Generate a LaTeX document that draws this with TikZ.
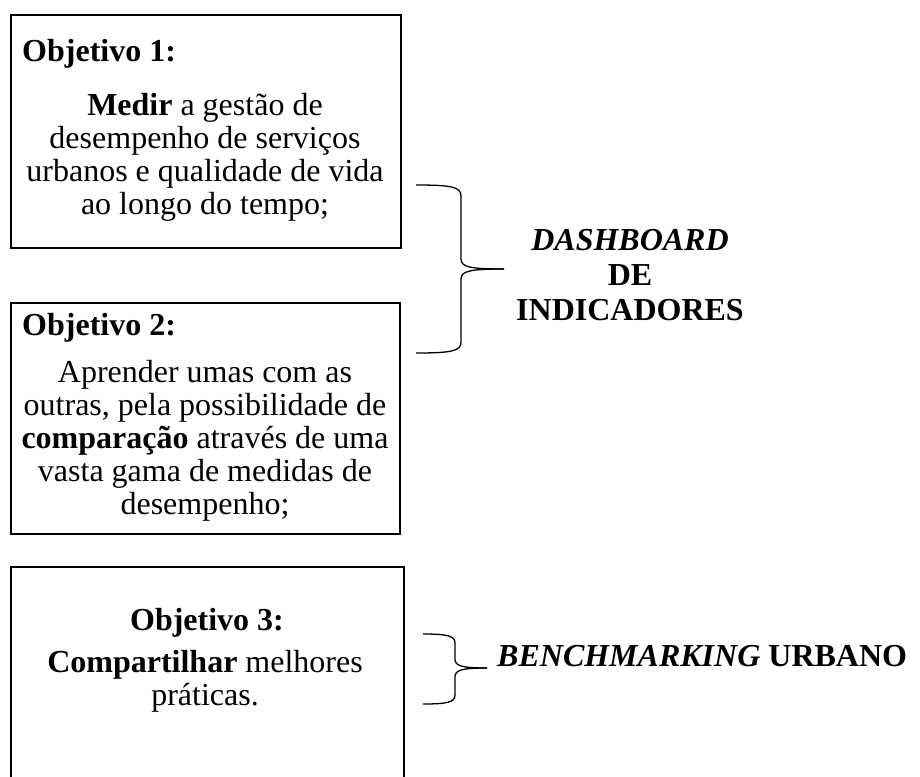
\documentclass[tikz,border=0pt]{standalone}
\usepackage{fontspec}
\setmainfont{Liberation Serif}
\begin{document}
\begin{tikzpicture}[x=1pt,y=-1pt,
  box/.style={draw=black, line width=2pt, inner sep=0pt, anchor=north west},
  txt/.style={inner sep=0pt, font=\fontsize{32}{33}\selectfont},
  ttl/.style={txt, font=\fontsize{32}{33}\selectfont\bfseries, anchor=base west},
  bodytext/.style={txt, align=center, anchor=base},
  brace/.style={line width=1.3pt, line join=round}
]
\clip (0,0) rectangle (920,776);
% boxes
\node[box, minimum width=390pt, minimum height=233pt] (b1) at (10,14) {};
\node[box, minimum width=389pt, minimum height=231pt] (b2) at (10,302) {};
\node[box, minimum width=393pt, minimum height=240pt] (b3) at (10,566) {};
% box 1 text (base anchor = last line's baseline)
\node[ttl] (t1) at (22,62) {Objetivo 1:};
\node[bodytext] (d1) at (205,214) {\textbf{Medir} a gestão de\\desempenho de serviços\\urbanos e qualidade de vida\\ao longo do tempo;};
% box 2 text
\node[ttl] (t2) at (22,335) {Objetivo 2:};
\node[bodytext] (d2) at (205,514) {Aprender umas com as\\outras, pela possibilidade de\\\textbf{comparação} através de uma\\vasta gama de medidas de\\desempenho;};
% box 3 text
\node[txt, font=\fontsize{32}{33}\selectfont\bfseries, anchor=base] (t3) at (207,630) {Objetivo 3:};
\node[bodytext] (d3) at (205,705) {\textbf{Compartilhar} melhores\\práticas.};
% brace 1
\coordinate (p1t) at (416,185);
\coordinate (p1b) at (416,353);
\coordinate (p1p) at (504,269);
\draw[brace] (p1t) .. controls (452,185) and (461,187) .. (461,196) -- (461,259)
  .. controls (461,267) and (470,269) .. (p1p);
\draw[brace] (p1p) .. controls (470,269) and (461,271) .. (461,279) -- (461,342)
  .. controls (461,351) and (452,353) .. (p1b);
% brace 2
\coordinate (p2t) at (423,634);
\coordinate (p2b) at (423,704);
\coordinate (p2p) at (487,668);
\draw[brace] (p2t) .. controls (448,634) and (455,636) .. (455,643) -- (455,659)
  .. controls (455,666) and (462,668) .. (p2p);
\draw[brace] (p2p) .. controls (462,668) and (455,670) .. (455,677) -- (455,695)
  .. controls (455,702) and (448,704) .. (p2b);
% labels
\node[txt, font=\fontsize{32}{35}\selectfont\bfseries, align=center, anchor=base] (dash) at (630,320) {\textit{DASHBOARD}\\DE\\INDICADORES};
\node[txt, font=\fontsize{32}{35}\selectfont\bfseries, anchor=base west] (bench) at (497,666) {\textit{BENCHMARKING} URBANO};
\end{tikzpicture}
\end{document}
